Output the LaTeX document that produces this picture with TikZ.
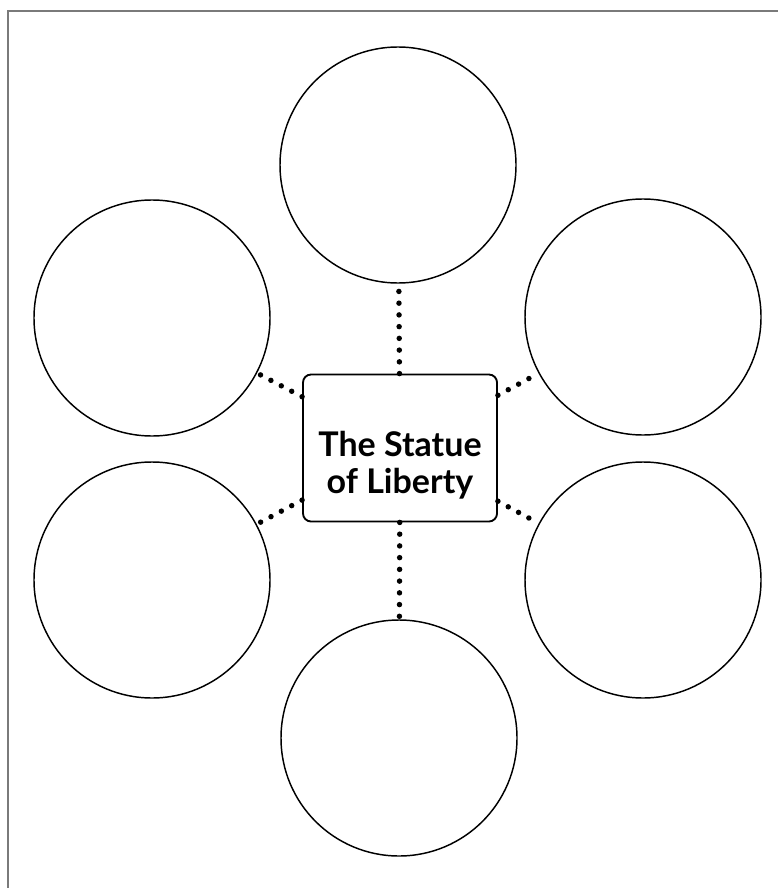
\documentclass[tikz,border=0pt]{standalone}
\usepackage{fontspec}
\newfontfamily\topicfont{Lato}
\usepackage{tikz}
\usetikzlibrary{positioning,calc}
\definecolor{Ink}{HTML}{000000}
\definecolor{Frame}{HTML}{7A7A7A}
\tikzset{
  topic/.style={rounded corners=6pt,draw=Ink,line width=1.4pt,fill=white,minimum width=194*0.75pt,
    minimum height=147*0.75pt},
  topictext/.style={align=center,inner sep=0pt,font=\topicfont\bfseries\fontsize{25.5}{28}\selectfont},
  bubble/.style={circle,draw=Ink,line width=1.1pt,minimum size=236*0.75pt,inner sep=0pt},
  link/.style={draw=Ink,line width=4.1pt,line cap=round,dash pattern=on 0pt off 8.8pt}
}
\begin{document}
\begin{tikzpicture}[x=0.75pt,y=-0.75pt]
        \useasboundingbox (0,0) rectangle (778,888);
        \draw[Frame,line width=1.5pt] (7.5,888) -- (7.5,11) -- (778,11);
        \node[topic] (statue) at (400,448) {};
        \node[topictext] (statuetext) at ([yshift=-13pt]statue.center) {The Statue\\of Liberty};
        \node[bubble] (top) at (398,165) {};
        \node[bubble] (upleft) at (152,318) {};
        \node[bubble] (upright) at (643,317) {};
        \node[bubble] (lowleft) at (152,580) {};
        \node[bubble] (lowright) at (643,580) {};
        \node[bubble] (bottom) at (399,738) {};
        \foreach \b in {top,upleft,upright,lowleft,lowright,bottom}
          \draw[link] (statue)--(\b);
      \end{tikzpicture}
\end{document}
